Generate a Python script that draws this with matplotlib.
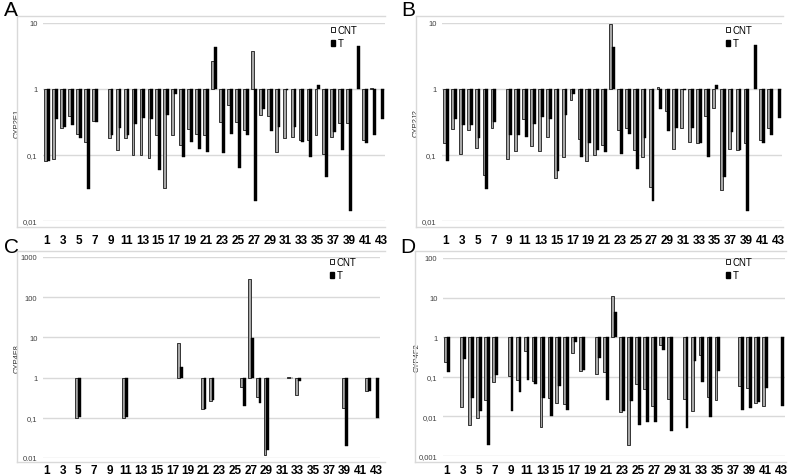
import numpy as np
import matplotlib
matplotlib.use("Agg")
import matplotlib.pyplot as plt
from matplotlib.patches import Patch
from matplotlib.lines import Line2D

plt.rcParams['font.family'] = ['Liberation Sans', 'DejaVu Sans']

N = np.nan
samples = list(range(1, 44))
xtick_labels = [str(i) for i in range(1, 44, 2)]

# CYP2E1
cnt_2E1 = [0.082, 0.088, 0.26, 0.39, 0.21, 0.16, 0.33, N, 0.18, 0.118,
           0.18, 0.10, 0.10, 0.091, 0.20, 0.032, 0.20, 0.14, 0.245, 0.21,
           0.20, 2.67, 0.32, 0.57, 0.32, 0.24, 3.7, 0.41, 0.39, 0.11,
           0.18, 0.19, 0.17, 0.17, 0.20, 0.105, 0.19, 0.31, 0.31, N,
           0.17, 1.05, N]
t_2E1 = [0.080, 0.35, 0.27, 0.28, 0.18, 0.031, 0.32, N, 0.20, 0.26,
         0.20, 0.29, 0.36, 0.35, 0.060, 0.41, 0.84, 0.094, 0.155, 0.123,
         0.112, 4.4, 0.106, 0.21, 0.063, 0.20, 0.0203, 0.49, 0.23, 0.27,
         0.97, 0.27, 0.155, 0.093, 1.16, 0.047, 0.22, 0.118, 0.014, 4.5,
         0.15, 0.20, 0.35]

# CYP2J2
cnt_2J2 = [0.154, 0.245, 0.105, 0.24, 0.128, 0.050, 0.255, N, 0.086, 0.114,
           0.35, 0.135, 0.114, 0.19, 0.045, 0.093, 0.67, 0.177, 0.080, 0.10,
           0.14, 9.5, 0.24, 0.26, 0.118, 0.093, 0.033, 1.06, 0.47, 0.125,
           0.26, 0.157, 0.154, 0.39, 0.51, 0.029, 0.122, 0.118, 0.154, N,
           0.167, 0.255, N]
t_2J2 = [0.080, 0.35, 0.28, 0.28, 0.18, 0.031, 0.32, N, 0.20, 0.20,
         0.19, 0.29, 0.37, 0.35, 0.057, 0.40, 0.84, 0.093, 0.15, 0.118,
         0.11, 4.4, 0.105, 0.21, 0.061, 0.18, 0.020, 0.49, 0.23, 0.26,
         0.98, 0.26, 0.15, 0.093, 1.16, 0.047, 0.22, 0.118, 0.014, 4.6,
         0.15, 0.20, 0.36]

# CYP4F8
cnt_4F8 = [N, N, N, N, 0.10, N, N, N, N, N,
           0.10, N, N, N, N, N, N, 7.4, N, N,
           0.17, 0.26, N, N, N, 0.60, 285, 0.32, 0.012, N,
           N, 1.04, 0.37, N, N, N, N, N, 0.18, N,
           N, 0.47, N]
t_4F8 = [N, N, N, N, 0.105, N, N, N, N, N,
         0.105, N, N, N, N, N, N, 1.87, N, N,
         0.17, 0.28, N, N, N, 0.20, 9.8, 0.24, 0.016, N,
         N, 0.97, 0.83, N, N, N, N, N, 0.020, N,
         N, 0.47, 0.10]

# CYP4F2
cnt_4F2 = [0.233, N, 0.017, 0.0062, 0.0091, 0.026, 0.073, N, 0.107, 0.083,
           0.44, 0.077, 0.0053, 0.030, 0.0214, 0.021, 0.41, 0.138, N, 0.118,
           0.13, 10.9, 0.013, 0.0019, 0.066, 0.049, 0.0187, 0.62, 0.0275, N,
           0.0275, 0.0134, 0.365, 0.031, 0.026, N, N, 0.060, 0.051, 0.022,
           0.0187, N, N]
t_4F2 = [0.13, N, 0.28, 0.029, 0.014, 0.0019, 0.114, N, 0.014, 0.041,
         0.085, 0.064, 0.030, 0.0104, 0.060, 0.0146, 0.75, 0.149, N, 0.30,
         0.026, 4.3, 0.014, 0.024, 0.0062, 0.0071, 0.0071, 0.48, 0.0044, N,
         0.0051, 0.257, 0.073, 0.0095, 0.144, N, N, 0.0146, 0.0162, 0.023,
         0.051, N, 0.0187]

W, H = 788, 477
fig = plt.figure(figsize=(W / 100, H / 100), dpi=100)

def rect(x0, y0, x1, y1):
    return [x0 / W, 1 - y1 / H, (x1 - x0) / W, (y1 - y0) / H]

grid_c = '#d9d9d9'

def box(x0, y0, x1, y1):
    for xs, ys in [((x0, x0), (y0, y1)), ((x0, x1), (y0, y0)), ((x0, x1), (y1, y1))]:
        fig.add_artist(Line2D([x / W for x in xs], [1 - y / H for y in ys],
                              color=grid_c, lw=1.0))

panels = [
    dict(letter='A', name='CYP2E1', cnt=cnt_2E1, t=t_2E1, ax=(43, 24, 385, 222),
         box=(17, 17, 385, 228), ylim=(0.01, 10), yt=[0.01, 0.1, 1, 10],
         ytl=['0,01', '0,1', '1', '10'], lpos=(4, 1), leg=(331, 26), xpad=9.5),
    dict(letter='B', name='CYP2J2', cnt=cnt_2J2, t=t_2J2, ax=(442, 24, 782, 222),
         box=(416, 17, 783, 228), ylim=(0.01, 10), yt=[0.01, 0.1, 1, 10],
         ytl=['0,01', '0,1', '1', '10'], lpos=(401, 1), leg=(726, 26), xpad=9.5),
    dict(letter='C', name='CYP4F8', cnt=cnt_4F8, t=t_4F8, ax=(43, 258, 380, 459),
         box=(17, 252, 385, 463), ylim=(0.01, 1000), yt=[0.01, 0.1, 1, 10, 100, 1000],
         ytl=['0.01', '0,1', '1', '10', '100', '1000'], lpos=(4, 238), leg=(330, 258), xpad=4.5),
    dict(letter='D', name='CYP4F2', cnt=cnt_4F2, t=t_4F2, ax=(443, 259, 785, 457),
         box=(415, 252, 786, 463), ylim=(0.001, 100), yt=[0.001, 0.01, 0.1, 1, 10, 100],
         ytl=['0,001', '0,01', '0,1', '1', '10', '100'], lpos=(400, 238), leg=(726, 258), xpad=6),
]

bw = 0.36
for p in panels:
    box(*p['box'])
    ax = fig.add_axes(rect(*p['ax']))
    ax.set_yscale('log')
    ax.set_ylim(*p['ylim'])
    ax.set_xlim(0.5, 43.5)
    x = np.array(samples, dtype=float)
    c = np.array(p['cnt'], dtype=float)
    t = np.array(p['t'], dtype=float)
    mc = ~np.isnan(c)
    mt = ~np.isnan(t)
    ax.bar(x[mc] - bw / 2, c[mc] - 1, bottom=1, width=bw, color='#a8a8a8',
           edgecolor='#1a1a1a', linewidth=0.6, zorder=3)
    ax.bar(x[mt] + bw / 2, t[mt] - 1, bottom=1, width=bw, color='black',
           edgecolor='black', linewidth=0.3, zorder=3)
    ax.set_yticks(p['yt'])
    ax.set_yticklabels(p['ytl'], fontsize=5.5, color='#404040')
    ax.yaxis.set_minor_locator(matplotlib.ticker.NullLocator())
    ax.grid(axis='y', color=grid_c, lw=1.0, zorder=0)
    ax.set_axisbelow(True)
    ax.set_xticks(samples[::2])
    ax.set_xticklabels(xtick_labels, fontsize=8.5, fontweight='bold')
    ax.tick_params(axis='x', length=0, pad=p['xpad'])
    ax.tick_params(axis='y', length=0, pad=4)
    for s in ax.spines.values():
        s.set_visible(False)
    ax.set_ylabel(p['name'], fontsize=5.5, color='#303030')
    ax.yaxis.set_label_coords(-0.065, 0.5)
    fig.text(p['lpos'][0] / W, 1 - p['lpos'][1] / H, p['letter'], fontsize=15,
             va='top', ha='left')
    handles = [Patch(facecolor='white', edgecolor='black', linewidth=0.6, label='CNT'),
               Patch(facecolor='black', edgecolor='black', label='T')]
    fig.legend(handles=handles, loc='upper left',
               bbox_to_anchor=(p['leg'][0] / W, 1 - p['leg'][1] / H),
               frameon=False, fontsize=7, handlelength=0.45, handleheight=0.45,
               handletextpad=0.25, labelspacing=0.35, borderpad=0, borderaxespad=0)

fig.savefig('out.png', dpi=100)
